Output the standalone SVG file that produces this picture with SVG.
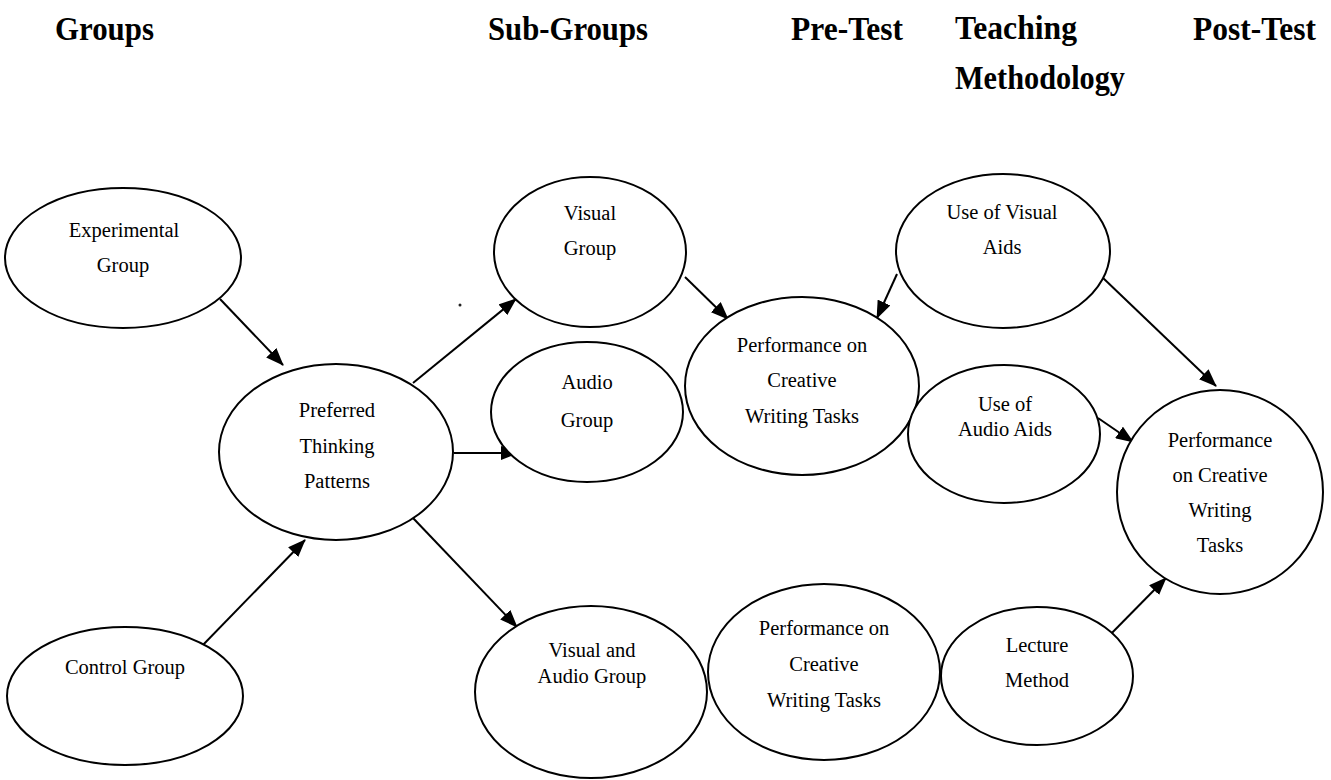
<svg xmlns="http://www.w3.org/2000/svg" width="1331" height="780" viewBox="0 0 1331 780">
  <style>
    .node ellipse { fill: #ffffff; stroke: #000000; stroke-width: 2; }
    .lbl { font-family: "Liberation Serif", "Times New Roman", serif; font-size: 20.5px; fill: #000000; text-anchor: middle; }
    .hdr { font-family: "Liberation Serif", "Times New Roman", serif; font-size: 33px; font-weight: bold; fill: #000000; }
    .edge line { stroke: #000000; stroke-width: 2; marker-end: url(#arrow); }
  </style>
  <defs>
    <marker id="arrow" markerUnits="userSpaceOnUse" markerWidth="18" markerHeight="14" refX="17" refY="7" orient="auto">
      <path d="M0,0 L18,7 L0,14 Z" fill="#000000"/>
    </marker>
  </defs>
  <rect width="1331" height="780" fill="#ffffff"/>

  <!-- column headings -->
  <g id="headings">
    <text class="hdr" x="55" y="40" textLength="99" lengthAdjust="spacingAndGlyphs">Groups</text>
    <text class="hdr" x="488" y="40" textLength="160" lengthAdjust="spacingAndGlyphs">Sub-Groups</text>
    <text class="hdr" x="791" y="40" textLength="112" lengthAdjust="spacingAndGlyphs">Pre-Test</text>
    <text class="hdr" x="955" y="39" textLength="122" lengthAdjust="spacingAndGlyphs">Teaching</text>
    <text class="hdr" x="955" y="89" textLength="170" lengthAdjust="spacingAndGlyphs">Methodology</text>
    <text class="hdr" x="1193" y="40" textLength="123" lengthAdjust="spacingAndGlyphs">Post-Test</text>
  </g>

  <!-- connectors -->
  <g id="connectors" class="edge">
    <line x1="220" y1="299" x2="283" y2="365"/>
    <line x1="200" y1="648" x2="305" y2="540"/>
    <line x1="413" y1="383" x2="516" y2="299"/>
    <line x1="454" y1="453" x2="518" y2="453"/>
    <line x1="413" y1="518" x2="517" y2="627"/>
    <line x1="685" y1="277" x2="728" y2="319"/>
    <line x1="897" y1="274" x2="877" y2="318"/>
    <line x1="1102" y1="277" x2="1216" y2="386"/>
    <line x1="1098" y1="418" x2="1133" y2="442"/>
    <line x1="1102" y1="643" x2="1166" y2="578"/>
  </g>

  <g id="experimental-group" class="node">
    <ellipse cx="123" cy="258" rx="118" ry="70"/>
    <text class="lbl" x="124" y="237">Experimental</text>
    <text class="lbl" x="123" y="272">Group</text>
  </g>

  <g id="control-group" class="node">
    <ellipse cx="125" cy="696" rx="118" ry="69"/>
    <text class="lbl" x="125" y="674">Control Group</text>
  </g>

  <g id="preferred-thinking" class="node">
    <ellipse cx="336" cy="452" rx="117" ry="88"/>
    <text class="lbl" x="337" y="417">Preferred</text>
    <text class="lbl" x="337" y="453">Thinking</text>
    <text class="lbl" x="337" y="488">Patterns</text>
  </g>

  <g id="visual-group" class="node">
    <ellipse cx="590" cy="252" rx="96" ry="75"/>
    <text class="lbl" x="590" y="220">Visual</text>
    <text class="lbl" x="590" y="255">Group</text>
  </g>

  <g id="audio-group" class="node">
    <ellipse cx="587" cy="412" rx="96" ry="70"/>
    <text class="lbl" x="587" y="389">Audio</text>
    <text class="lbl" x="587" y="427">Group</text>
  </g>

  <g id="visual-audio-group" class="node">
    <ellipse cx="591" cy="692" rx="116" ry="86"/>
    <text class="lbl" x="592" y="657">Visual and</text>
    <text class="lbl" x="592" y="683">Audio Group</text>
  </g>

  <g id="pretest-upper" class="node">
    <ellipse cx="802" cy="386" rx="117" ry="89"/>
    <text class="lbl" x="802" y="352">Performance on</text>
    <text class="lbl" x="802" y="387">Creative</text>
    <text class="lbl" x="802" y="423">Writing Tasks</text>
  </g>

  <g id="pretest-lower" class="node">
    <ellipse cx="824" cy="672" rx="116" ry="88"/>
    <text class="lbl" x="824" y="635">Performance on</text>
    <text class="lbl" x="824" y="671">Creative</text>
    <text class="lbl" x="824" y="707">Writing Tasks</text>
  </g>

  <g id="visual-aids" class="node">
    <ellipse cx="1003" cy="251" rx="107" ry="77"/>
    <text class="lbl" x="1002" y="219">Use of Visual</text>
    <text class="lbl" x="1002" y="254">Aids</text>
  </g>

  <g id="audio-aids" class="node">
    <ellipse cx="1004" cy="434" rx="96" ry="69"/>
    <text class="lbl" x="1005" y="411">Use of</text>
    <text class="lbl" x="1005" y="436">Audio Aids</text>
  </g>

  <g id="lecture-method" class="node">
    <ellipse cx="1037" cy="676" rx="96" ry="69"/>
    <text class="lbl" x="1037" y="652">Lecture</text>
    <text class="lbl" x="1037" y="687">Method</text>
  </g>

  <g id="posttest" class="node">
    <ellipse cx="1220" cy="492" rx="103" ry="102"/>
    <text class="lbl" x="1220" y="447">Performance</text>
    <text class="lbl" x="1220" y="482">on Creative</text>
    <text class="lbl" x="1220" y="517">Writing</text>
    <text class="lbl" x="1220" y="552">Tasks</text>
  </g>

  <!-- small ink dot between the thinking-pattern and sub-group columns -->
  <circle cx="460" cy="305" r="1.5" fill="#222222"/>
</svg>
